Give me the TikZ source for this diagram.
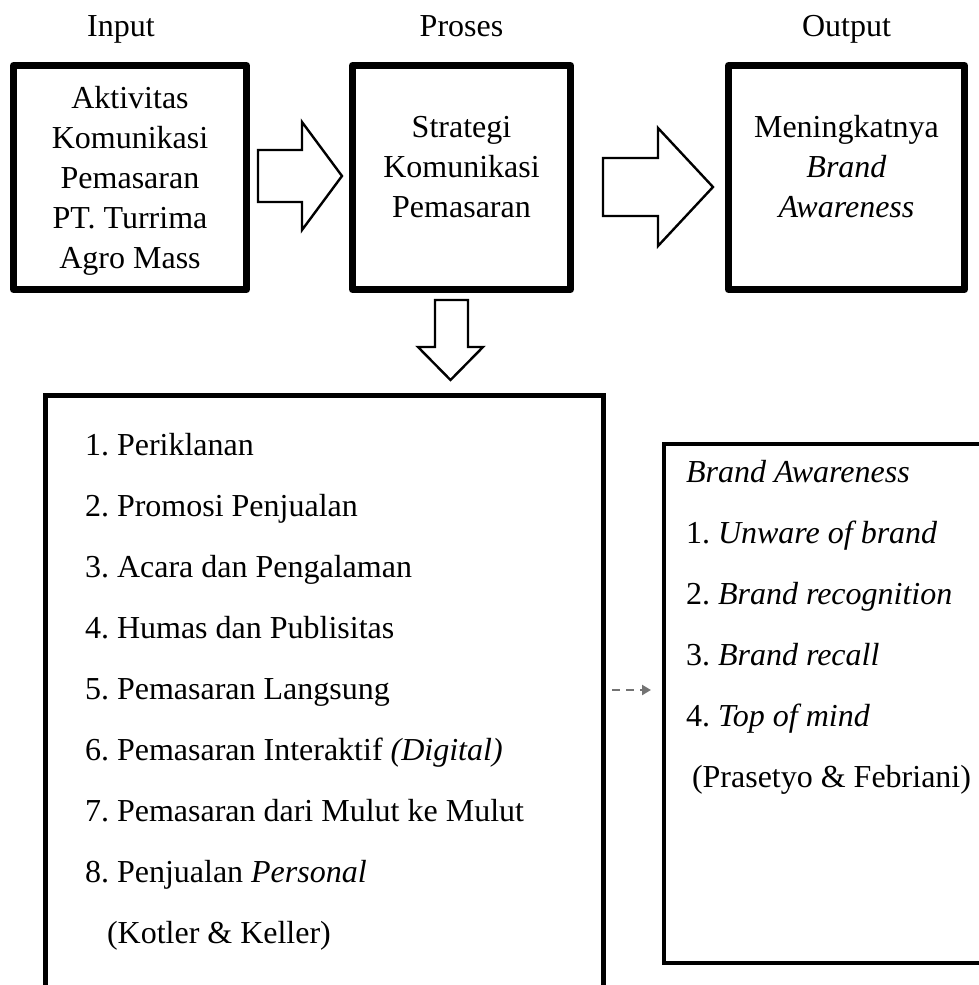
\documentclass[tikz,border=0pt]{standalone}
\usepackage{fontspec}
\setmainfont{Liberation Serif}
\usetikzlibrary{arrows.meta}
\frenchspacing

\begin{document}
\begin{tikzpicture}[
  x=0.5pt, y=-0.5pt,
  every node/.style={font=\fontsize{16pt}{20pt}\selectfont,
                     inner sep=0pt, outer sep=0pt},
  mainbox/.style={rectangle, draw=black, line width=3.5pt, line join=round},
  listbox/.style={rectangle, draw=black, line width=2.5pt},
  notebox/.style={rectangle, draw=black, line width=2pt},
  boxtext/.style={align=center, anchor=base},
  listtext/.style={align=left, anchor=base west,
                   font=\fontsize{16pt}{30.5pt}\selectfont},
  coltitle/.style={anchor=base},
  blockarrow/.style={draw=black, fill=white, line width=1.2pt},
  dasharrow/.style={draw=gray!90!black, line width=1.2pt, dash pattern=on 4pt off 3pt,
                    -{Triangle[length=4.5pt, width=5pt]}}
]
\clip (0,0) rectangle (979,985);

%% ─── Column titles ──────────────────────────────────────────────────────────
\node[coltitle] (tIn)   at (121,36)   {Input};
\node[coltitle] (tProc) at (461.5,36) {Proses};
\node[coltitle] (tOut)  at (846.5,36) {Output};

%% ─── Top row: input, process, output ───────────────────────────────────────
\node[mainbox, minimum width=116.5pt, minimum height=112pt] (inBox)   at (130,177.5)   {};
\node[mainbox, minimum width=109pt,   minimum height=112pt] (procBox) at (461.5,177.5) {};
\node[mainbox, minimum width=118pt,   minimum height=112pt] (outBox)  at (846.5,177.5) {};

% (anchor = baseline of the last line)
\node[boxtext] (inText)   at (130,268)   {Aktivitas\\Komunikasi\\Pemasaran\\PT. Turrima\\Agro Mass};
\node[boxtext] (procText) at (461.5,217) {Strategi\\Komunikasi\\Pemasaran};
\node[boxtext] (outText)  at (846.5,217) {Meningkatnya\\\textit{Brand}\\\textit{Awareness}};

%% ─── Block arrows ───────────────────────────────────────────────────────────
\draw[blockarrow] (258,150) -- (302,150) -- (302,122) -- (342,176)
                  -- (302,230) -- (302,202) -- (258,202) -- cycle;
\draw[blockarrow] (603,158) -- (658,158) -- (658,128) -- (713,187)
                  -- (658,246) -- (658,216) -- (603,216) -- cycle;
\draw[blockarrow] (435,300) -- (468,300) -- (468,347) -- (483,347)
                  -- (450.5,380) -- (418,347) -- (435,347) -- cycle;

%% ─── Bottom row: tools and brand awareness ─────────────────────────────────
\node[listbox, minimum width=279pt, minimum height=302.25pt] (listBox)  at (324.5,697.75) {};
\node[notebox, minimum width=168pt, minimum height=259.5pt]  (awareBox) at (832,703.5)    {};

\node[listtext] (listText) at (85,943) {%
  1. Periklanan\\
  2. Promosi Penjualan\\
  3. Acara dan Pengalaman\\
  4. Humas dan Publisitas\\
  5. Pemasaran Langsung\\
  6. Pemasaran Interaktif \textit{(Digital)}\\
  7. Pemasaran dari Mulut ke Mulut\\
  8. Penjualan \textit{Personal}\\
  \hspace*{11pt}(Kotler \& Keller)};

\node[listtext] (awareText) at (686,787) {%
  \textit{Brand Awareness}\\
  1. \textit{Unware of brand}\\
  2. \textit{Brand recognition}\\
  3. \textit{Brand recall}\\
  4. \textit{Top of mind}\\
  \hspace*{3pt}(Prasetyo \& Febriani)};

\coordinate (dashL) at (612,690);
\coordinate (dashR) at (651,690);
\draw[dasharrow] (dashL) -- (dashR);

\end{tikzpicture}
\end{document}
